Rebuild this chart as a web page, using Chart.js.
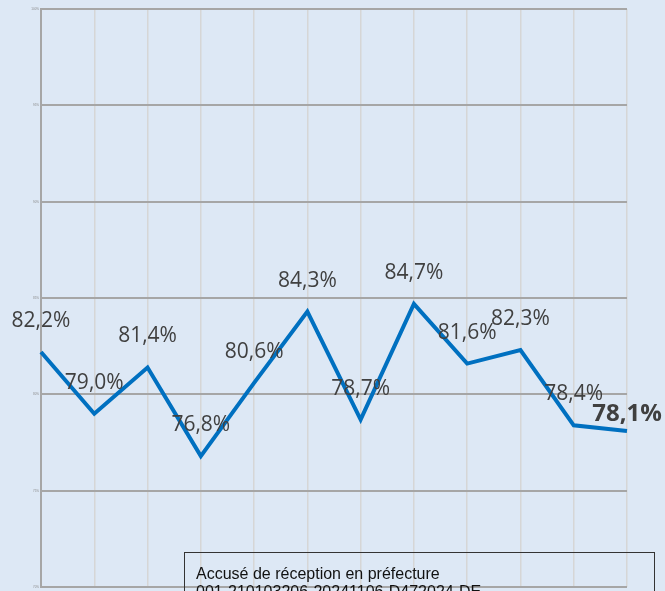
<!DOCTYPE html>
<html>
<head>
<meta charset="utf-8">
<script src="https://cdn.jsdelivr.net/npm/chart.js@4/dist/chart.umd.min.js"></script>
<style>
  html, body { margin: 0; padding: 0; background: #dde8f5; overflow: hidden; }
  #wrap { position: relative; width: 665px; height: 591px; }
  #stamp {
    position: absolute; left: 184px; top: 552px; width: 471px; height: 60px;
    border: 1.5px solid #333; padding: 12px 0 0 11px; box-sizing: border-box;
    font-family: "Liberation Sans", Arial, sans-serif; font-size: 16px; line-height: 18px; color: #111;
  }
</style>
</head>
<body>
<div id="wrap">
  <canvas id="rateChart" width="665" height="591"></canvas>
  <div id="stamp">Accusé de réception en préfecture<br>001-210103206-20241106-D472024-DE</div>
</div>
<script>
var labels = ['1', '2', '3', '4', '5', '6', '7', '8', '9', '10', '11', '12'];
var rates = [82.2, 79.0, 81.4, 76.8, 80.6, 84.3, 78.7, 84.7, 81.6, 82.3, 78.4, 78.1];
var yMin = 70;
var yMax = 100;
var yStep = 5;

function fmt(v) {
    return v.toFixed(1).replace('.', ',') + '%';
}

// draws the value above each point, last one bold and bigger
var valueLabels = {
    id: 'valueLabels',
    afterDatasetsDraw: function (chart) {
        var c = chart.ctx;
        var meta = chart.getDatasetMeta(0);
        c.save();
        c.textAlign = 'center';
        c.textBaseline = 'middle';
        c.fillStyle = '#404040';
        meta.data.forEach(function (pt, i) {
            var last = i === rates.length - 1;
            c.font = last ? 'bold 24px "Open Sans"' : '21px "Open Sans"';
            c.fillText(fmt(rates[i]), pt.x, pt.y - (last ? 17 : 31));
        });
        c.restore();
    }
};

var ctx = document.getElementById('rateChart').getContext('2d');
var chart = new Chart(ctx, {
    type: 'line',
    data: {
        labels: labels,
        datasets: [{
            data: rates,
            borderColor: '#0070c0',
            borderWidth: 4,
            borderJoinStyle: 'miter',
            tension: 0,
            pointRadius: 0,
            fill: false
        }]
    },
    options: {
        responsive: false,
        animation: false,
        layout: { padding: { top: 9, right: 38, bottom: 3, left: 0 } },
        plugins: { legend: { display: false }, tooltip: { enabled: false } },
        scales: {
            x: {
                ticks: { display: false },
                grid: { color: '#d6d6d6', lineWidth: 1.5, drawTicks: false },
                border: { display: false }
            },
            y: {
                min: yMin,
                max: yMax,
                afterFit: function (scale) { scale.width = 41; },
                ticks: {
                    stepSize: yStep,
                    padding: 2,
                    color: '#8a8a8a',
                    font: { size: 3 },
                    callback: function (v) { return v + '%'; }
                },
                grid: { color: '#a6a6a6', lineWidth: 2, drawTicks: false },
                border: { color: '#a6a6a6', width: 2 }
            }
        }
    },
    plugins: [valueLabels]
});
</script>
</body>
</html>
